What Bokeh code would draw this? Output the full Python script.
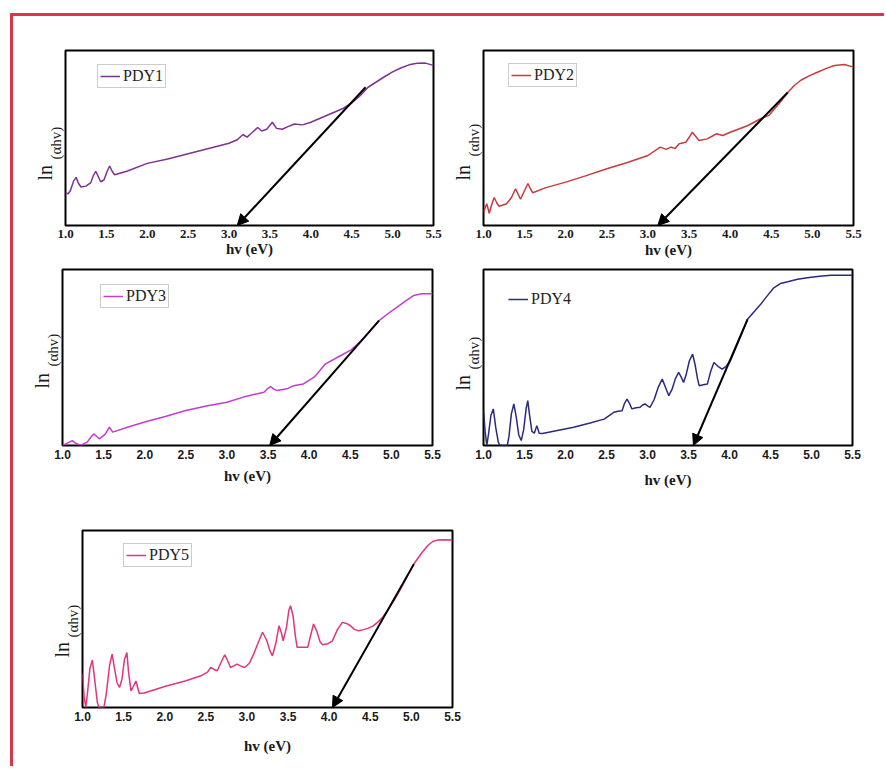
from bokeh.plotting import figure
from bokeh.models import (Range1d, FixedTicker, NumeralTickFormatter, Title, Arrow,
                          NormalHead, Legend, LegendItem, Spacer)
from bokeh.layouts import row, column
from bokeh.embed import file_html
from bokeh.resources import INLINE

# ---------------- data ----------------
tick_values = [1.0, 1.5, 2.0, 2.5, 3.0, 3.5, 4.0, 4.5, 5.0, 5.5]
names = ["PDY1", "PDY2", "PDY3", "PDY4", "PDY5"]

x1 = [1.00, 1.03, 1.06, 1.10, 1.13, 1.16, 1.19, 1.25, 1.31, 1.34, 1.37, 1.40, 1.43, 1.47, 1.51,
      1.54, 1.57, 1.60, 1.75, 2.0, 2.25, 2.5, 2.75, 3.0, 3.1, 3.17, 3.22, 3.28, 3.35, 3.4,
      3.46, 3.53, 3.58, 3.65, 3.72, 3.8, 3.9, 4.0, 4.2, 4.4, 4.5, 4.6, 4.7, 4.8, 4.9,
      5.0, 5.1, 5.2, 5.3, 5.4, 5.5]
y1 = [19, 18, 20, 25.5, 27.5, 24, 22, 22.5, 24.5, 28.5, 31, 28, 25, 26, 31,
      34, 31, 29, 31, 35.5, 38, 41, 44, 47, 49, 52, 50.5, 53, 56, 54,
      55, 59, 55.5, 55, 56.5, 58, 57.5, 59, 63, 67, 70, 74, 79, 82, 85,
      87.8, 90, 91.8, 92.7, 92.8, 91.5]

x2 = [1.0, 1.02, 1.04, 1.07, 1.10, 1.13, 1.16, 1.19, 1.28, 1.34, 1.39, 1.42, 1.45, 1.50, 1.54,
      1.57, 1.60, 1.75, 2.0, 2.25, 2.5, 2.75, 3.0, 3.15, 3.22, 3.28, 3.33, 3.38, 3.46, 3.51,
      3.54, 3.58, 3.62, 3.72, 3.78, 3.83, 3.91, 4.0, 4.21, 4.37, 4.47, 4.6, 4.7, 4.78, 4.86,
      4.96, 5.06, 5.17, 5.27, 5.39, 5.5]
y2 = [7.6, 10, 12.4, 7, 12, 16, 13, 11, 12.4, 16, 21, 18, 15, 20, 24,
      21, 18.7, 21.5, 24.8, 28.5, 32.4, 36, 40, 44.8, 43.5, 44.8, 44, 46.7, 47.6, 51,
      53.3, 51, 48.6, 49.5, 51, 52.4, 51.4, 53.3, 57, 61, 62.9, 70, 76, 80, 83,
      85.5, 87.6, 89.8, 91.4, 92, 90.5]

x3 = [1.0, 1.06, 1.12, 1.16, 1.22, 1.3, 1.35, 1.38, 1.42, 1.45, 1.52, 1.57, 1.61, 1.8, 2.0,
      2.25, 2.5, 2.75, 3.0, 3.2, 3.45, 3.5, 3.53, 3.57, 3.61, 3.73, 3.81, 3.93, 4.06, 4.2,
      4.38, 4.5, 4.64, 4.85, 4.96, 5.07, 5.17, 5.27, 5.37, 5.5]
y3 = [0, 1.3, 2.8, 1.3, 0, 1.9, 5, 6.6, 5, 3.8, 6.5, 10.4, 7.6, 10.5, 13.3,
      16.5, 19.9, 22.5, 24.6, 27.5, 30.3, 32.5, 33.5, 32, 31.2, 32.2, 34, 35, 38.8, 46.4,
      51, 54, 59.7, 71, 75, 78.6, 82, 85.2, 86.2, 86.2]

x4 = [1.0, 1.02, 1.04, 1.06, 1.09, 1.12, 1.15, 1.18, 1.2, 1.29, 1.31, 1.34, 1.37, 1.40, 1.43,
      1.46, 1.49, 1.52, 1.54, 1.56, 1.59, 1.62, 1.65, 1.68, 1.72, 1.9, 2.1, 2.3, 2.47, 2.55,
      2.59, 2.64, 2.69, 2.72, 2.75, 2.78, 2.81, 2.86, 2.91, 2.94, 2.97, 3.0, 3.03, 3.08, 3.13,
      3.18, 3.22, 3.26, 3.3, 3.34, 3.38, 3.41, 3.44, 3.47, 3.51, 3.55, 3.58, 3.61, 3.63, 3.68,
      3.73, 3.77, 3.81, 3.86, 3.91, 3.96, 4.01, 4.1, 4.22, 4.3, 4.38, 4.46, 4.54, 4.62, 4.71,
      4.83, 4.95, 5.1, 5.24, 5.5]
y4 = [19.8, 8, 0, 6, 17, 20.8, 10, 2, 0, 0, 5, 18, 23.6, 16, 6,
      2.8, 9, 21, 25.5, 18, 8, 7, 11.3, 7, 6.8, 8.5, 10.4, 12.8, 15, 17.5,
      18.9, 19.5, 19.8, 24, 26.4, 24, 20.8, 21.5, 21.7, 23, 23.6, 22.5, 21.7, 26, 33,
      37.7, 33, 28.3, 32, 38, 41.5, 39, 35.8, 40, 48, 51.9, 46, 38, 34, 34.5,
      34.9, 42, 47.2, 45, 43.4, 45, 48.1, 58, 71.7, 76, 80.2, 85, 89.6, 92, 93,
      94.5, 95.3, 96.2, 96.8, 96.8]

x5 = [1.0, 1.02, 1.04, 1.06, 1.09, 1.12, 1.15, 1.18, 1.2, 1.26, 1.29, 1.33, 1.36, 1.39, 1.42,
      1.45, 1.48, 1.51, 1.54, 1.56, 1.59, 1.62, 1.65, 1.69, 1.75, 2.03, 2.25, 2.44, 2.52, 2.56,
      2.6, 2.64, 2.68, 2.73, 2.77, 2.8, 2.84, 2.88, 2.92, 2.97, 3.03, 3.08, 3.14, 3.19, 3.24,
      3.28, 3.31, 3.35, 3.39, 3.42, 3.44, 3.48, 3.51, 3.53, 3.56, 3.59, 3.61, 3.68, 3.74, 3.77,
      3.81, 3.85, 3.89, 3.92, 3.98, 4.04, 4.1, 4.16, 4.21, 4.26, 4.31, 4.36, 4.42, 4.47, 4.53,
      4.59, 4.65, 4.71, 4.79, 4.87, 4.95, 5.03, 5.12, 5.2, 5.26, 5.32, 5.4, 5.5]
y5 = [18.9, 6, 0, 8, 22, 26.8, 15, 3, 0, 0, 8, 24, 30.2, 22, 14,
      11.3, 16, 27, 31.1, 20, 9.4, 12, 15, 7.9, 8.2, 12.3, 15, 17.9, 20, 22.6,
      21.5, 20.8, 25, 29.8, 26, 22.6, 23.5, 24.5, 23.5, 22.6, 25, 30, 37, 42.5, 38,
      32, 29.2, 36, 46.2, 42, 37.7, 45, 55, 57.5, 52, 40, 34, 34, 34, 40,
      47.2, 43, 37, 35.5, 36, 37.7, 44, 48.1, 47.5, 46.2, 44, 43.4, 44, 44.7, 46,
      48.1, 51, 54.7, 60.5, 67, 74, 81.1, 87, 91.5, 93.8, 94.7, 94.8, 94.7]

# tangent arrows: start point on the curve, end at the band gap on the x axis
arrow_x0 = [4.67, 4.70, 4.85, 4.22, 5.03]
arrow_y0 = [79, 76, 71, 71.7, 81]
band_gap = [3.10, 3.12, 3.52, 3.56, 4.04]

xs = [x1, x2, x3, x4, x5]
ys = [y1, y2, y3, y4, y5]

# ---------------- styles ----------------
colors = ["#7e3290", "#c83a3f", "#c23ccf", "#2b2b7e", "#e0357f"]
RED = "#d8374b"
X0, X1, Y0, Y1 = 1.0, 5.5, 0.0, 100.0
# (left, frame_w, right, top, frame_h, bottom)
geom = [
    (52, 368, 10, 34, 177, 38),
    (40, 370, 10, 34, 175, 40),
    (49, 370, 10, 4, 176, 47),
    (41, 369, 10, 3, 177, 47),
    (69, 370, 10, 38, 177, 52),
]
tick_font = ["Liberation Serif", "Liberation Serif", "Liberation Sans", "Liberation Sans", "Liberation Sans"]
tick_size = ["13px", "13px", "12px", "12px", "12px"]
label_standoff = [0, 1, 6, 10, 14]
legend_loc = [(32, 137), (25, 138), (38, 137), (25, 137), (41, 140)]
legend_border = ["#9a9a9a", "#9a9a9a", "#9a9a9a", None, "#9a9a9a"]
# offsets (px) of the y-title pieces above the frame bottom
ln_off = [45, 45, 57, 55, 50]
par_off = [66, 69, 79, 76, 70]


def make_fig(i):
    l, fw, r, t, fh, b = geom[i]
    p = figure(width=l + fw + r, height=t + fh + b,
               x_range=Range1d(X0, X1), y_range=Range1d(Y0, Y1),
               output_backend="svg", toolbar_location=None, tools="",
               min_border_left=l, min_border_right=r, min_border_top=t, min_border_bottom=b,
               background_fill_color="white", border_fill_color="white",
               outline_line_color="black", outline_line_width=2, outline_line_alpha=1.0)
    p.grid.visible = False
    p.yaxis.visible = False
    ax = p.xaxis[0]
    ax.ticker = FixedTicker(ticks=tick_values)
    ax.formatter = NumeralTickFormatter(format="0.0")
    ax.axis_line_color = None
    ax.major_tick_line_color = None
    ax.minor_tick_line_color = None
    ax.major_tick_out = 0
    ax.major_tick_in = 0
    ax.major_label_standoff = 4
    ax.major_label_text_font = tick_font[i]
    ax.major_label_text_font_size = tick_size[i]
    ax.major_label_text_font_style = "bold"
    ax.major_label_text_color = "#1a1a1a"
    ax.axis_label = "hv (eV)"
    ax.axis_label_text_font = "Liberation Serif"
    ax.axis_label_text_font_size = "15px"
    ax.axis_label_text_font_style = "bold"
    ax.axis_label_text_color = "#1a1a1a"
    ax.axis_label_standoff = label_standoff[i]

    rline = p.line(xs[i], ys[i], line_color=colors[i], line_width=1.5)

    p.add_layout(Arrow(end=NormalHead(size=11, fill_color="black", line_color="black"),
                       x_start=arrow_x0[i], y_start=arrow_y0[i],
                       x_end=band_gap[i], y_end=0,
                       line_color="black", line_width=2))

    leg = Legend(items=[LegendItem(label=names[i], renderers=[rline])],
                 location=legend_loc[i], margin=0, padding=2, spacing=0,
                 glyph_width=20, glyph_height=12, label_standoff=3,
                 label_text_font="Liberation Serif", label_text_font_size="16px",
                 label_text_color="#222222",
                 border_line_color=legend_border[i], border_line_width=1,
                 background_fill_color="white", background_fill_alpha=1.0)
    p.add_layout(leg)

    # y-axis title "ln (αhv)" as two vertical titles in the left border
    p.add_layout(Title(text="(αhv)", align="left", offset=par_off[i], standoff=4,
                       text_font="Liberation Serif", text_font_size="15px",
                       text_font_style="normal", text_color="#1a1a1a"), "left")
    p.add_layout(Title(text="ln", align="left", offset=ln_off[i], standoff=-24,
                       text_font="Liberation Serif", text_font_size="20px",
                       text_font_style="normal", text_color="#1a1a1a"), "left")
    return p


figs = [make_fig(i) for i in range(5)]

row_a = row(figs[0], figs[1], spacing=0, margin=0)
row_b = row(figs[2], figs[3], spacing=0, margin=0)
row_c = row(figs[4], spacing=0, margin=0)
content = column(row_a, row_b, row_c, spacing=0, margin=0)

top_line = Spacer(width=874, height=3, margin=0, styles={"background-color": RED})
left_line = Spacer(width=3, height=750, margin=0, styles={"background-color": RED})

page = column(top_line, row(left_line, content, spacing=0, margin=0),
              spacing=0, margin=(13, 0, 0, 10))

open("out.html", "w").write(file_html(page, INLINE, title="PDY band gaps"))
